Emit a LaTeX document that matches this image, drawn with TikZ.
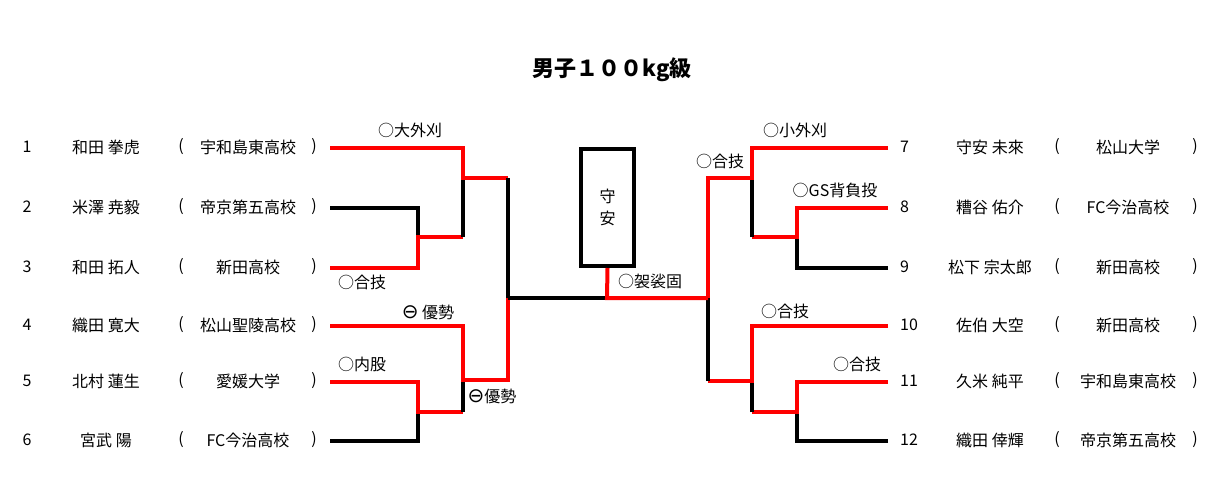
\documentclass[tikz,border=0pt]{standalone}
\usepackage{fontspec}
\setmainfont{Noto Sans CJK JP}
\newfontfamily\symfont{DejaVu Sans}
\usetikzlibrary{positioning}
\tikzset{
  win/.style={draw=red,line width=4pt},
  lose/.style={draw=black,line width=4pt},
  txt/.style={font=\fontsize{16}{16}\selectfont,inner sep=0pt},
  waza/.style={txt,anchor=base}
}
\newcommand{\yusei}{{\symfont\fontsize{20}{20}\selectfont ⊖}}
\begin{document}
\begin{tikzpicture}[x=1pt,y=-1pt]
\useasboundingbox (0,0) rectangle (1224,490);
\node[txt,font=\fontsize{22}{22}\selectfont\bfseries] (title) at (612,70) {男子１００kg級};
% left side entries
\foreach \n/\y/\nm/\sc in {1/147/和田 拳虎/宇和島東高校,2/207/米澤 尭毅/帝京第五高校,3/267/和田 拓人/新田高校,4/325/織田 寛大/松山聖陵高校,5/381/北村 蓮生/愛媛大学,6/440/宮武 陽/FC今治高校}{
  \node[txt] (ln\n) at (27,\y) {\n};
  \node[txt] (lname\n) at (106,\y) {\nm};
  \node[txt] at (181,\y) {(};
  \node[txt] (lsc\n) at (248,\y) {\sc};
  \node[txt] at (314,\y) {)};
  \coordinate (L\n) at (330,\y+1);
}
% right side entries
\foreach \n/\y/\nm/\sc in {7/147/守安 未來/松山大学,8/207/糟谷 佑介/FC今治高校,9/267/松下 宗太郎/新田高校,10/325/佐伯 大空/新田高校,11/381/久米 純平/宇和島東高校,12/440/織田 倖輝/帝京第五高校}{
  \node[txt,anchor=west] (rn\n) at (900,\y) {\n};
  \node[txt] (rname\n) at (990,\y) {\nm};
  \node[txt] at (1057,\y) {(};
  \node[txt] (rsc\n) at (1128,\y) {\sc};
  \node[txt] at (1195,\y) {)};
  \coordinate (R\n) at (888,\y+1);
}
% champion box
\node[draw,line width=4pt,minimum width=53pt,minimum height=117pt,txt,align=center] (champ) at (607.5,207.5) {守\\[6pt]安};
% left bracket
\draw[lose] (L2) -| (418,237);
\draw[win] (L3) -| (418,237) -- (463,237);
\draw[lose] (463,237) -- (463,178);
\draw[win] (L1) -| (463,178) -- (508,178);
\draw[lose] (508,178) -- (508,298);
\draw[lose] (L6) -| (418,412);
\draw[win] (L5) -| (418,412) -- (463,412);
\draw[lose] (463,412) -- (463,380);
\draw[win] (L4) -| (463,380) -- (508,380) -- (508,298);
\draw[lose] (508,298) -- (607,298);
% right bracket
\draw[lose] (R9) -| (797,237);
\draw[win] (R8) -| (797,237) -- (752,237);
\draw[lose] (752,237) -- (752,178);
\draw[win] (R7) -| (752,178) -- (708,178) -- (708,298);
\draw[lose] (R12) -| (797,412);
\draw[win] (R11) -| (797,412) -- (752,412);
\draw[lose] (752,412) -- (752,381);
\draw[win] (R10) -| (752,381) -- (708,381);
\draw[lose] (708,381) -- (708,298);
\draw[win] (champ.south) -- (607,298) -- (708,298);
% techniques
\node[waza] at (410,136) {○大外刈};
\node[waza] at (362,288) {○合技};
\node[waza] at (428,318) {\yusei{} 優勢};
\node[waza] at (362,370) {○内股};
\node[waza] at (492,402) {\yusei 優勢};
\node[waza] at (650,287) {○袈裟固};
\node[waza] at (720,167) {○合技};
\node[waza] at (795,136) {○小外刈};
\node[waza] at (835,196) {○GS背負投};
\node[waza] at (785,317) {○合技};
\node[waza] at (857,370) {○合技};
\end{tikzpicture}
\end{document}
